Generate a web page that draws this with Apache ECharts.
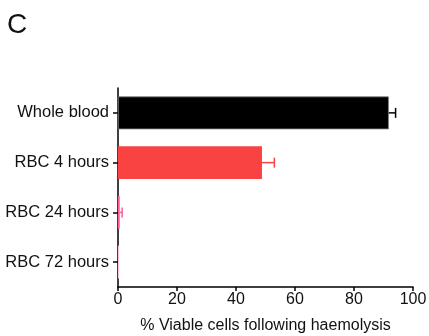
<!DOCTYPE html>
<html>
<head>
<meta charset="utf-8">
<style>
  html, body { margin: 0; padding: 0; background: #fff; }
  #chart { width: 429px; height: 336px; }
</style>
<script src="https://cdn.jsdelivr.net/npm/echarts@6/dist/echarts.min.js"></script>
</head>
<body>
<div id="chart"></div>
<script>
// Haemolysis viability: mean % viable cells and SEM per sample group
const categories = ['Whole blood', 'RBC 4 hours', 'RBC 24 hours', 'RBC 72 hours'];
const viable = [91.8, 48.8, 0.6, 0.4];
const errors = [2.3, 4.2, 0.8, 0];
const barColors = ['#000000', '#f94242', '#ff5c9a', '#ffc4dc'];
const xTicks = [0, 20, 40, 60, 80, 100];

const chart = echarts.init(document.getElementById('chart'));
const font = 'Liberation Sans, Arial, sans-serif';

chart.setOption({
  animation: false,
  graphic: [{
    type: 'text', left: 7, top: 11,
    style: { text: 'C', font: '300 28px ' + font, fill: '#111' }
  }],
  grid: { left: 118, right: 16, top: 88, bottom: 49, containLabel: false, outerBoundsMode: 'none' },
  xAxis: {
    type: 'value', min: xTicks[0], max: xTicks[xTicks.length - 1], interval: 20,
    name: '% Viable cells following haemolysis',
    nameLocation: 'middle', nameGap: 31,
    nameTextStyle: { color: '#111', fontSize: 16, fontFamily: font },
    axisLine: { show: true, lineStyle: { color: '#000', width: 1.5 } },
    axisTick: { show: true, length: 4, lineStyle: { color: '#000', width: 1.5 } },
    axisLabel: { color: '#111', fontSize: 16, fontFamily: font, margin: 5 },
    splitLine: { show: false }
  },
  yAxis: {
    type: 'category', data: categories, inverse: true,
    axisLine: { show: true, lineStyle: { color: '#000', width: 1.5 } },
    axisTick: { show: true, alignWithLabel: true, length: 5, lineStyle: { color: '#000', width: 1.5 } },
    axisLabel: { color: '#111', fontSize: 16.5, fontFamily: font, margin: 9 }
  },
  series: [
    {
      type: 'bar', barWidth: '66%',
      data: viable.map((v, i) => ({
        value: v,
        itemStyle: { color: barColors[i], borderColor: i === 0 ? '#777' : barColors[i], borderWidth: i === 0 ? 0.8 : 0 }
      })),
      z: 2
    },
    {
      type: 'custom', z: 3,
      data: viable.map((v, i) => [v, i, errors[i]]),
      renderItem: function (params, api) {
        const mean = api.value(0), idx = api.value(1), err = api.value(2);
        if (!err) return null;
        const start = api.coord([mean, idx]);
        const end = api.coord([mean + err, idx]);
        const cap = 5;
        const col = barColors[idx];
        return {
          type: 'group',
          children: [
            { type: 'line', shape: { x1: start[0], y1: start[1], x2: end[0], y2: end[1] }, style: { stroke: col, lineWidth: 1.5 } },
            { type: 'line', shape: { x1: end[0], y1: end[1] - cap, x2: end[0], y2: end[1] + cap }, style: { stroke: col, lineWidth: 1.5 } }
          ]
        };
      }
    }
  ]
});
</script>
</body>
</html>
